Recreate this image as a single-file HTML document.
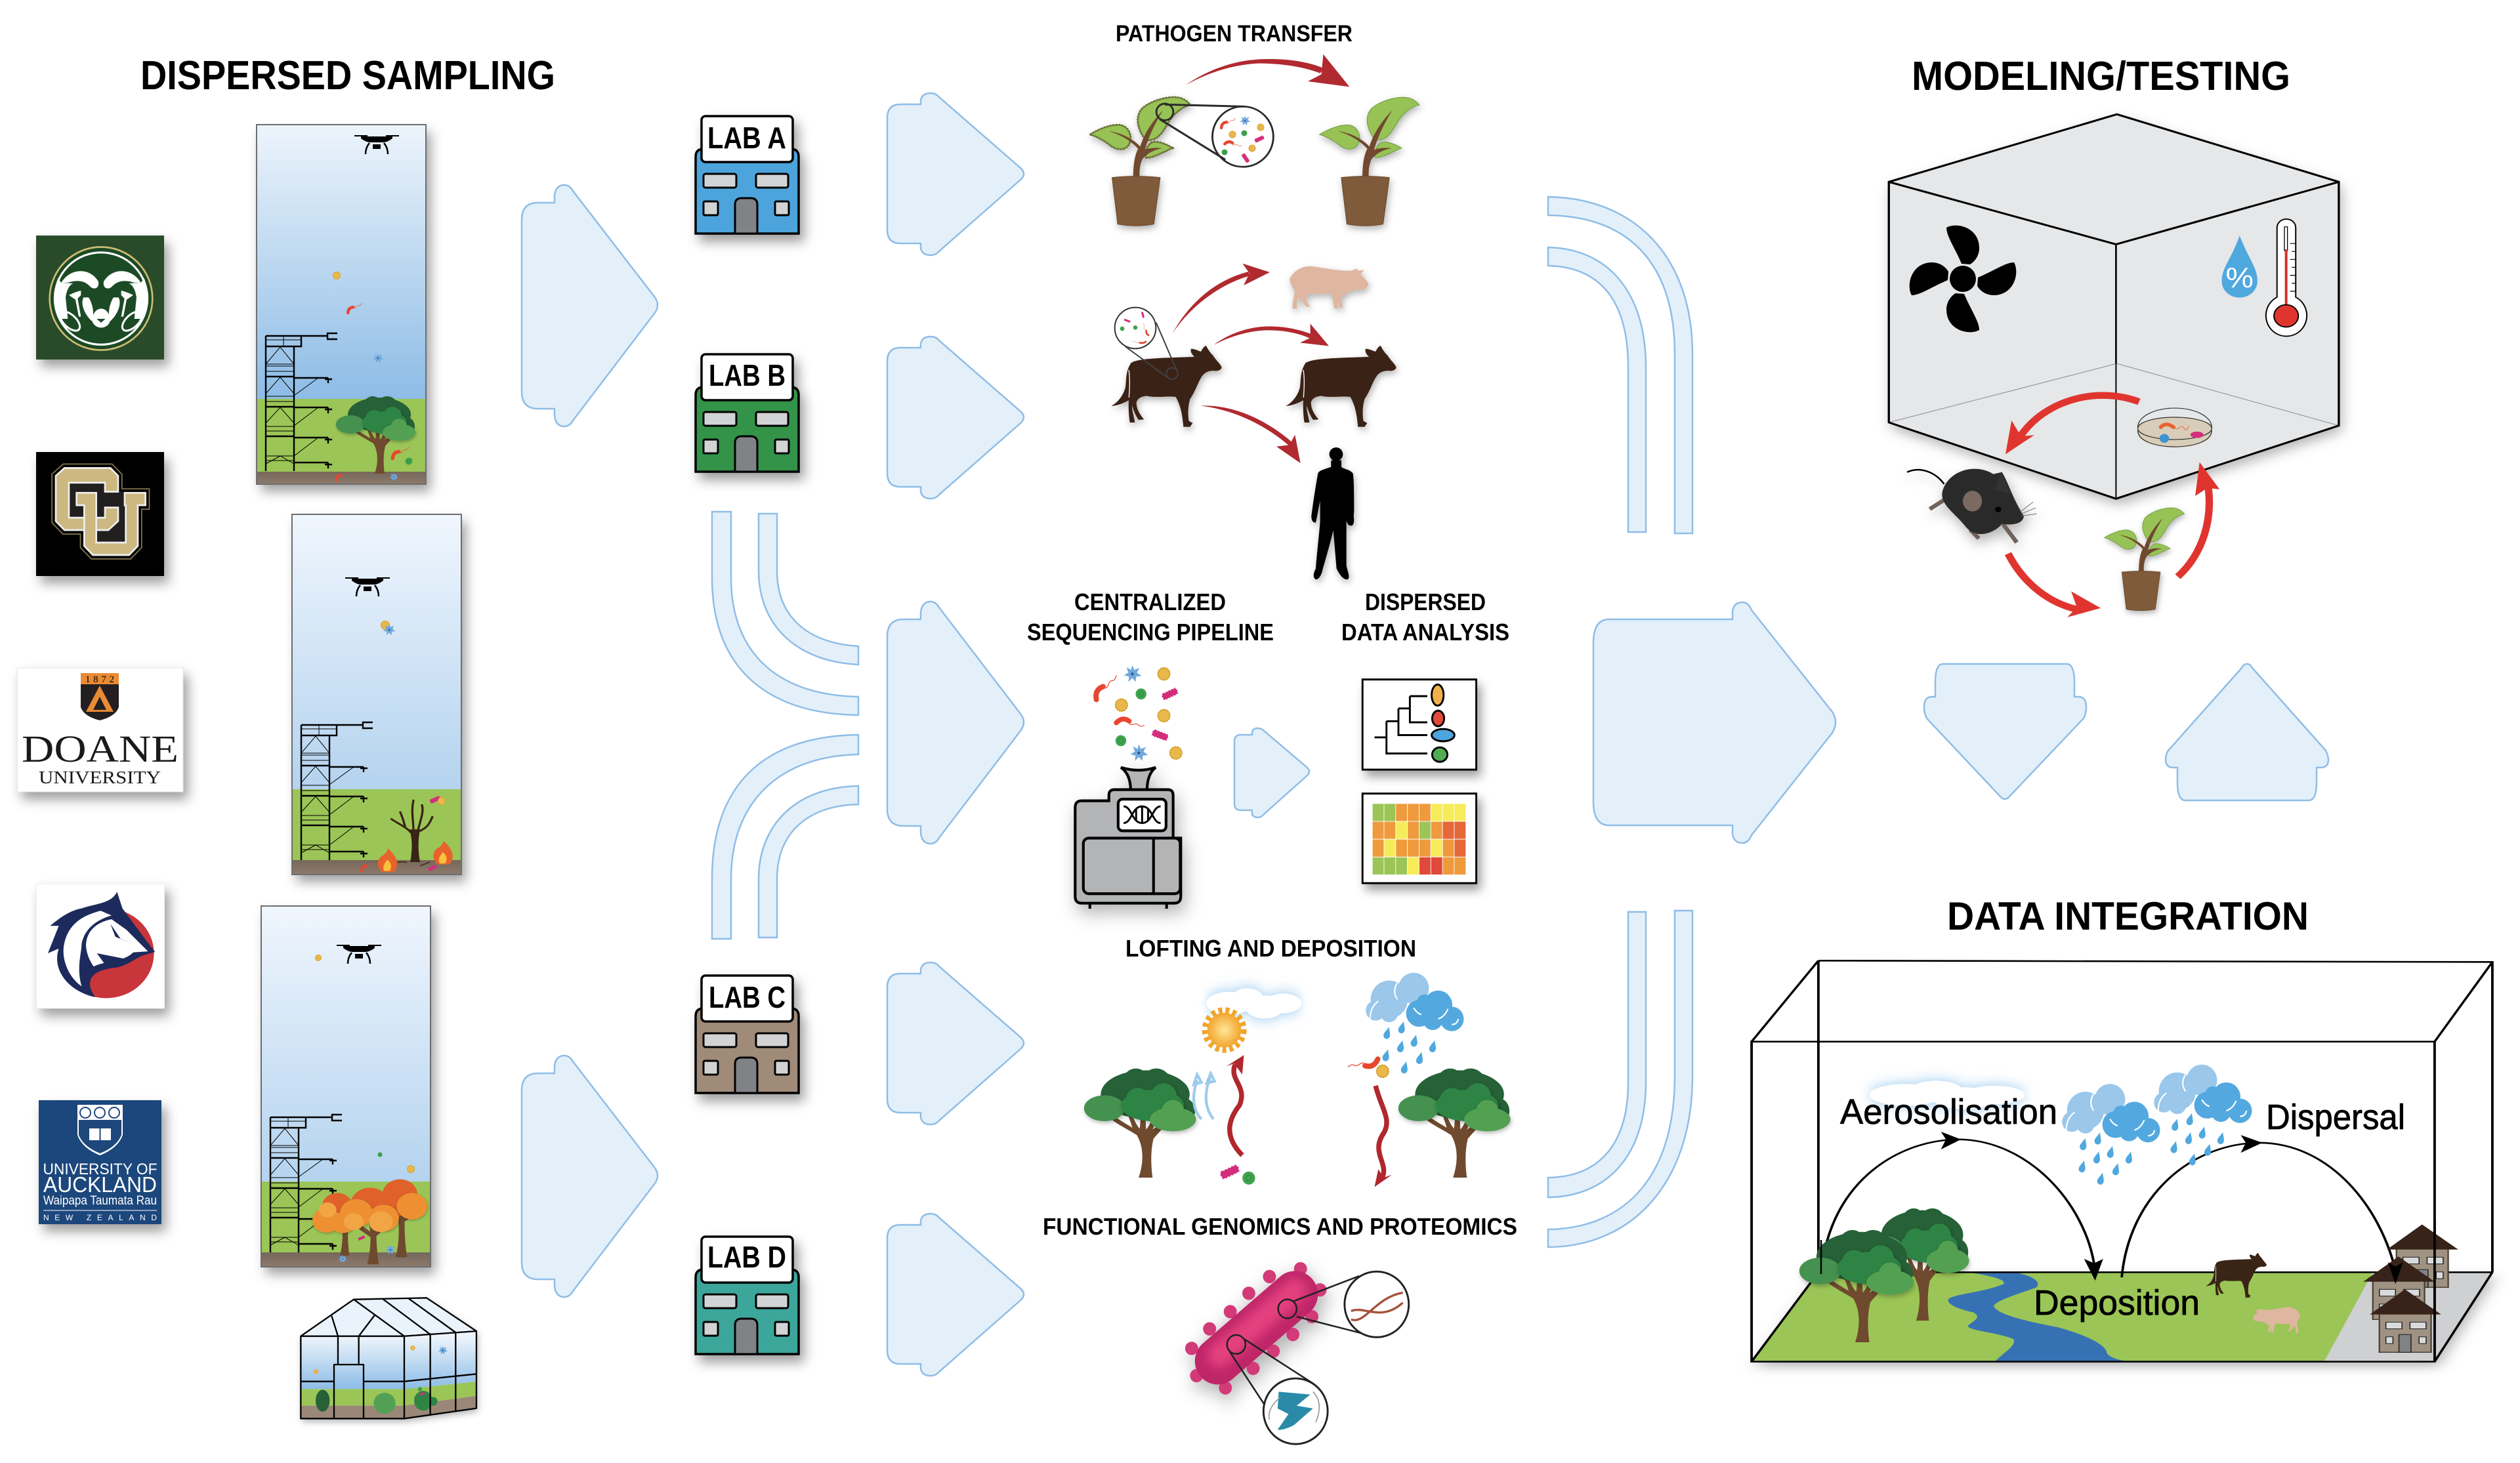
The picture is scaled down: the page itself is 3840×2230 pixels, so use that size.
<!DOCTYPE html>
<html><head><meta charset="utf-8"><title>Diagram</title>
<style>html,body{margin:0;padding:0;background:#fff}svg{display:block}
text{font-family:"Liberation Sans",sans-serif;font-weight:700;fill:#000}</style></head>
<body>
<svg xmlns="http://www.w3.org/2000/svg" width="3840" height="2230" viewBox="0 0 3840 2230">
<defs>
<filter id="ds" x="-30%" y="-30%" width="170%" height="170%"><feDropShadow dx="7" dy="11" stdDeviation="9" flood-color="#000" flood-opacity=".38"/></filter>
<filter id="dsl" x="-30%" y="-30%" width="170%" height="170%"><feDropShadow dx="6" dy="14" stdDeviation="16" flood-color="#000" flood-opacity=".3"/></filter>
<filter id="ts" x="-20%" y="-20%" width="140%" height="140%"><feDropShadow dx="1" dy="2" stdDeviation="2.500" flood-color="#000" flood-opacity=".28"/></filter>
<filter id="glow" x="-30%" y="-60%" width="160%" height="220%"><feDropShadow dx="0" dy="0" stdDeviation="8" flood-color="#8cc4ee" flood-opacity=".9"/></filter>
<filter id="bl8" x="-30%" y="-30%" width="160%" height="160%"><feGaussianBlur stdDeviation="9"/></filter>
<linearGradient id="s1" x1="0" y1="0" x2="0" y2="1"><stop offset="0" stop-color="#edf4fb"/><stop offset="1" stop-color="#8dbce6"/></linearGradient>
<linearGradient id="s2" x1="0" y1="0" x2="0" y2="1"><stop offset="0" stop-color="#f0f6fd"/><stop offset="1" stop-color="#b4d3ef"/></linearGradient>
<linearGradient id="soil" x1="0" y1="0" x2="0" y2="1"><stop offset="0" stop-color="#75675b"/><stop offset="1" stop-color="#8d7a6c"/></linearGradient>
<linearGradient id="gh" gradientUnits="userSpaceOnUse" x1="0" y1="230" x2="0" y2="472"><stop offset="0" stop-color="#eef5fc"/><stop offset="1" stop-color="#8dbce6"/></linearGradient>
<radialGradient id="sun"><stop offset="0" stop-color="#fde79a"/><stop offset="1" stop-color="#f4a52c"/></radialGradient>

<g id="tower" fill="none" stroke="#000">
<path stroke-width="2.4" d="M405 512V718M448 528V718M405 512H459V528H405M459 512H499M514 508H499V517H514M405 574H448M405 620H448M405 665H448M448 576H500M448 621H500M448 667H500M448 705H500"/>
<path stroke-width="1" d="M405 518H459M432 512V528M405 555H448M405 558H448M405 566H448M405 604H448M405 612H448M405 650H448M405 657H448M405 695H448M405 702H448M405 555L427 529L448 555M405 600L427 575L448 600M405 645L427 621L448 645M405 707L427 695L448 707M448 603L485 576M448 649L485 621M448 695L485 667"/>
<path stroke-width="2.4" d="M495 578H506M500 576V584M495 624H506M500 621V630M495 670H506M500 667V676M495 708H506M500 705V714"/>
</g>
<g id="drone"><path d="M-34 -10H-14M14 -10H34" stroke="#000" stroke-width="2" fill="none"/><path d="M-24 -9h48v3q-8 6-14 6h-20q-6 0-14-6z"/><rect x="-6" y="3" width="12" height="7"/><path d="M-11 1Q-17 8-17 18M11 1Q17 8 17 18" stroke="#000" stroke-width="2.5" fill="none"/></g>

<g id="tree">
<path fill="#6f4a2e" d="M-7 0C-1-18-2-34-9-46C-18-52-30-57-40-66L-37-69C-28-62-20-58-14-54C-15-60-18-64-19-72L-15-72C-13-64-10-58-6-53C-5-58-5-65-5-72L0-72L1-52C5-57 8-62 9-72L13-72C12-62 11-58 8-52C14-56 18-60 23-64L26-62C20-54 14-48 9-42C6-30 6-14 8 0Z"/>
<g fill="#266137"><ellipse cx="0" cy="-90" rx="48" ry="26"/><circle cx="-28" cy="-92" r="14"/><circle cx="-10" cy="-104" r="14"/><circle cx="12" cy="-102" r="16"/><circle cx="32" cy="-90" r="16"/><ellipse cx="-32" cy="-80" rx="14" ry="12"/><ellipse cx="42" cy="-72" rx="12" ry="14"/></g>
<g fill="#45914f" filter="url(#ts)"><ellipse cx="-44" cy="-75" rx="22" ry="14"/><circle cx="-56" cy="-75" r="10"/></g>
<g fill="#2f8444" filter="url(#ts)"><ellipse cx="8" cy="-78" rx="34" ry="17"/><circle cx="20" cy="-88" r="14"/><circle cx="-8" cy="-84" r="13"/></g>
<g fill="#52a053" filter="url(#ts)"><ellipse cx="30" cy="-63" rx="25" ry="13"/><circle cx="30" cy="-72" r="12"/></g>
</g>

<g id="sp"><circle r="10" fill="#e9b84a"/><circle r="9" fill="none" stroke="#c9952c" stroke-dasharray="2 2" stroke-width="2"/></g>
<g id="gr"><circle r="9" fill="#3fa34d"/><circle r="4" fill="none" stroke="#2a8a3c"/></g>
<g id="rb"><path d="M-18 9Q-17-6-3-7" stroke="#e8452f" stroke-width="8" fill="none" stroke-linecap="round"/><path d="M-3-7q4 6 8 0t8-5t8-6" stroke="#e8553f" stroke-width="1.3" fill="none"/></g>
<g id="pk"><rect x="-13" y="-5" width="26" height="10" rx="3" fill="#d22e7c" transform="rotate(-25)" stroke="#d22e7c" stroke-width="2" stroke-dasharray="2 3"/></g>
<g id="bl"><path fill="#6fa9dd" d="M0-13L3-6L11-9L7-2L14 3L6 4L5 12L0 6L-6 12L-5 4L-13 2L-6-2L-9-10L-2-6Z"/><circle r="2" fill="#27538f"/></g>

<g id="lab">
<path stroke="#000" stroke-width="3.5" d="M0 179V62Q0 50 12 50H145Q157 50 157 62V179Z"/>
<g fill="#d1d3d4" stroke="#000" stroke-width="3"><rect x="12" y="88" width="50" height="21" rx="3"/><rect x="92" y="88" width="49" height="21" rx="3"/><rect x="12" y="130" width="22" height="21" rx="2"/><rect x="121" y="130" width="21" height="21" rx="2"/></g>
<path fill="#808285" stroke="#000" stroke-width="3" d="M60 179V135Q60 125 70 125H84Q94 125 94 135V179Z"/>
<rect x="9" y="0" width="139" height="70" rx="6" fill="#fff" stroke="#000" stroke-width="3.5"/>
</g>

<path id="bigA" fill="#e3f0fa" stroke="#8fbde6" stroke-width="2.5" d="M795 335Q795 309 820 309L845 309L845 298Q847 282 860 282Q868 282 873 291L997 452Q1007 465 997 478L873 641Q868 650 860 650Q847 650 845 634L845 623L820 623Q795 623 795 597Z"/>
<path id="midA" fill="#e3f0fa" stroke="#8fbde6" stroke-width="2.5" d="M1352 180Q1352 159 1372 159L1403 159L1403 153Q1405 142 1418 142Q1426 142 1431 148L1555 256Q1565 265 1555 274L1431 383Q1426 389 1418 389Q1405 389 1403 378L1403 371L1372 371Q1352 371 1352 350Z"/>

<g id="leaves">
<path d="M1215 395C1180 340 1175 290 1205 255C1250 215 1330 195 1370 210C1390 218 1400 230 1408 240C1380 245 1345 270 1320 310C1295 355 1275 400 1230 400Z"/>
<path d="M982 375C1020 350 1070 328 1110 332C1145 340 1160 380 1150 410C1140 445 1105 450 1075 430C1045 405 1015 385 982 375Z"/>
<path d="M1332 437C1300 415 1265 405 1245 412C1225 425 1215 450 1220 480C1245 485 1290 455 1332 437Z"/>
</g>
<g id="stem">
<path fill="#6f4a2e" d="M1165 578C1165 510 1172 470 1186 440C1150 400 1110 375 1060 360C1110 365 1165 395 1195 430C1212 370 1250 310 1292 265C1258 325 1230 385 1215 445C1240 435 1265 435 1290 438C1250 445 1220 465 1203 490C1190 525 1192 550 1192 578Z"/>
</g>
<g id="pot"><path fill="#7f5a3a" stroke="#6a4a2c" stroke-width="3" d="M1075 572Q1178 560 1280 572L1253 785Q1178 800 1099 785Z"/></g>

<g id="cow"><path fill="#3a2416" d="M130 460C160 440 250 437 420 432C410 420 400 410 405 395C420 395 440 405 450 408C458 395 465 380 475 382C480 395 490 410 505 425C520 450 545 470 545 482C540 495 520 498 510 495C490 495 470 500 455 520C435 550 425 590 400 625C390 660 390 700 395 725L412 735L400 752L370 752C365 700 360 660 335 615C300 610 240 620 200 610C170 615 160 625 155 640C155 670 170 695 190 718L165 720C150 700 140 670 135 655C135 680 145 710 148 732L125 732C120 700 118 660 120 630C105 640 70 655 40 657C70 640 95 610 105 570C110 530 105 500 130 460Z"/><path d="M120 492C127 530 124 580 121 618" stroke="#fff" stroke-width="4" fill="none"/></g>
<path id="pig" fill="#dfb6a0" d="M855 75C880 30 920 15 960 18C1010 25 1080 40 1140 38L1160 28L1170 38L1195 35L1180 55C1195 75 1215 85 1215 100C1210 120 1190 128 1160 125C1130 130 1100 150 1090 160L1100 205L1085 208L1075 180L1075 210L1060 210C1055 180 1050 150 1040 140C1000 145 960 145 940 145C930 160 925 170 950 202L930 202L905 165C895 160 885 170 890 212L870 212C865 190 875 160 880 130C865 110 860 95 855 75Z"/>
<g id="drop"><path d="M0-14C3-6 6-3 6 2A6 6 0 0 1-6 2C-6-3-3-6 0-14Z" fill="#4fa8de"/></g>
<g id="rain">
<g fill="#9ac7ea"><circle cx="985" cy="735" r="34"/><circle cx="1030" cy="715" r="28"/><circle cx="960" cy="755" r="18"/><circle cx="985" cy="760" r="16"/><circle cx="1045" cy="745" r="20"/></g>
<g fill="#53a9df"><circle cx="1040" cy="760" r="24"/><circle cx="1075" cy="745" r="26"/><circle cx="1100" cy="770" r="22"/><circle cx="1065" cy="772" r="18"/><circle cx="1050" cy="740" r="14"/></g>
<path d="M950 775Q948 750 965 738M1000 705Q990 720 1000 735M1075 770q12-4 18-18M1100 780q10 0 12-10M1030 750q6 10 14 12" stroke="#fff" stroke-width="2.5" fill="none"/>
<use href="#drop" transform="translate(981,798) rotate(15)"/><use href="#drop" transform="translate(1008,788) rotate(15)"/><use href="#drop" transform="translate(1031,812) rotate(15)"/><use href="#drop" transform="translate(1065,822) rotate(15)"/><use href="#drop" transform="translate(1006,822) rotate(15)"/><use href="#drop" transform="translate(979,838) rotate(15)"/><use href="#drop" transform="translate(1041,843) rotate(15)"/><use href="#drop" transform="translate(1013,860) rotate(15)"/>
</g>
<g id="cloud"><ellipse cx="0" cy="0" rx="48" ry="13"/><ellipse cx="40" cy="-4" rx="36" ry="13"/><ellipse cx="78" cy="4" rx="42" ry="13"/><ellipse cx="118" cy="0" rx="40" ry="11"/></g>
<g id="house"><rect x="-51" y="0" width="103" height="118" stroke="#4a4038" stroke-width="3"/><g fill="#d9dadb" stroke="#222" stroke-width="2"><rect x="-38" y="28" width="32" height="20"/><rect x="10" y="28" width="32" height="20"/><rect x="-38" y="72" width="14" height="20"/><rect x="28" y="72" width="14" height="20"/></g><rect x="-12" y="65" width="24" height="53" fill="#808285" stroke="#222" stroke-width="2"/><path fill="#38231a" d="M-70 5L0-70L72 5Z"/></g>
<path id="blade" d="M-2 -23C-12 -47 -25 -65 -25 -78C-9 -87 25 -78 25 -47C25 -35 18 -26 11 -22Z"/>
</defs>

<rect width="3840" height="2230" fill="#fff"/>

<!-- Headings -->
<text x="214" y="136" font-size="62" textLength="632" lengthAdjust="spacingAndGlyphs">DISPERSED SAMPLING</text>
<text x="2913" y="137" font-size="62" textLength="577" lengthAdjust="spacingAndGlyphs">MODELING/TESTING</text>
<text x="2967" y="1417" font-size="60" textLength="551" lengthAdjust="spacingAndGlyphs">DATA INTEGRATION</text>
<text x="1700" y="63" font-size="35" textLength="361" lengthAdjust="spacingAndGlyphs">PATHOGEN TRANSFER</text>
<text x="1637" y="930" font-size="36" textLength="231" lengthAdjust="spacingAndGlyphs">CENTRALIZED</text>
<text x="1565" y="976" font-size="36" textLength="376" lengthAdjust="spacingAndGlyphs">SEQUENCING PIPELINE</text>
<text x="2080" y="930" font-size="36" textLength="184" lengthAdjust="spacingAndGlyphs">DISPERSED</text>
<text x="2044" y="976" font-size="36" textLength="256" lengthAdjust="spacingAndGlyphs">DATA ANALYSIS</text>
<text x="1715" y="1458" font-size="36" textLength="443" lengthAdjust="spacingAndGlyphs">LOFTING AND DEPOSITION</text>
<text x="1589" y="1882" font-size="36" textLength="723" lengthAdjust="spacingAndGlyphs">FUNCTIONAL GENOMICS AND PROTEOMICS</text>

<!-- Logos -->
<g filter="url(#ds)"><rect x="55" y="359" width="195" height="189" fill="#2c4c2c"/></g>
<g transform="translate(40,350) scale(.3333,.3444)">
<ellipse cx="342" cy="305" rx="235" ry="228" fill="#1c4a25" stroke="#cdbb72" stroke-width="8"/>
<ellipse cx="342" cy="305" rx="212" ry="204" fill="none" stroke="#fff" stroke-width="9"/>
<g id="ramhalf" fill="#fff">
<path d="M160 235C200 170 290 165 330 230C335 260 310 270 290 250C260 220 220 225 190 235Z"/>
<path d="M145 215C120 280 125 350 160 395L190 395L180 300C185 270 195 245 215 238L160 235Z"/>
<path d="M262 300C245 330 270 380 300 405C315 370 300 320 285 300Z"/>
<ellipse cx="200" cy="405" rx="55" ry="28" fill="none" stroke="#fff" stroke-width="9" transform="rotate(42 200 405)"/>
<path d="M195 290Q225 275 250 270L250 290L235 305L250 385L240 385L225 310Z"/>
</g>
<use href="#ramhalf" transform="translate(684,0) scale(-1,1)"/>
<path fill="#fff" d="M342 350C320 350 305 370 300 400C310 445 375 445 385 400C380 370 365 350 342 350Z"/>
<path fill="#1c4a25" d="M322 395H362L342 412Z"/>
</g>

<g filter="url(#ds)"><rect x="55" y="689" width="195" height="189" fill="#030303"/></g>
<g transform="translate(40,350) scale(.3333,.3444)">
<path d="M135 1090L175 1055H385L420 1090V1160H360V1120H195V1275H360V1230H420V1290L375 1330H175L135 1290Z" fill="none" stroke="#8a7a52" stroke-width="40" stroke-linejoin="miter"/>
<path d="M230 1165H320V1385H455V1220H450V1165H545V1220H510V1400L470 1440H305L265 1400V1220H230Z" fill="none" stroke="#8a7a52" stroke-width="40"/>
<path d="M135 1090L175 1055H385L420 1090V1160H360V1120H195V1275H360V1230H420V1290L375 1330H175L135 1290Z M230 1165H320V1385H455V1220H450V1165H545V1220H510V1400L470 1440H305L265 1400V1220H230Z" fill="none" stroke="#000" stroke-width="30"/>
<rect x="195" y="1120" width="165" height="155" fill="#221f1f"/><rect x="320" y="1160" width="135" height="225" fill="#221f1f"/>
<g fill="#ccb880" stroke="#eee" stroke-width="8"><path d="M135 1090L175 1055H385L420 1090V1160H360V1120H195V1275H360V1230H420V1290L375 1330H175L135 1290Z"/><path d="M230 1165H320V1385H455V1220H450V1165H545V1220H510V1400L470 1440H305L265 1400V1220H230Z"/></g>
</g>

<g filter="url(#ds)"><rect x="26.5" y="1018" width="252.5" height="189" fill="#fff" stroke="#e6e6e6"/></g>
<path d="M123 1042H181V1078Q176 1092 152 1098Q128 1092 123 1078Z" fill="#231f20"/>
<rect x="123" y="1026" width="58" height="17" fill="#e98a34"/>
<path d="M152 1045L173 1085H131Z" fill="#e98a34"/><path d="M152 1062L162 1082H142Z" fill="#231f20"/>
<text x="130" y="1040" font-size="15" textLength="44" style="font-family:'Liberation Serif',serif;font-weight:400">1872</text>
<text x="33" y="1161" font-size="58" textLength="239" lengthAdjust="spacingAndGlyphs" style="font-family:'Liberation Serif',serif;font-weight:400;fill:#1a1a1a">DOANE</text>
<text x="59" y="1194" font-size="27" textLength="186" lengthAdjust="spacingAndGlyphs" style="font-family:'Liberation Serif',serif;font-weight:400;fill:#1a1a1a">UNIVERSITY</text>

<g filter="url(#ds)"><rect x="55.5" y="1347" width="195" height="190" fill="#fff" stroke="#eee"/></g>
<g transform="translate(0,1100) scale(.8292,.7205)">
<ellipse cx="195" cy="490" rx="88" ry="95" fill="#c8353a"/>
<path fill="#1d2a5c" d="M215 360C205 385 175 385 150 395C125 400 105 420 92 432L108 432L88 490L108 480C95 525 125 570 175 583C155 550 165 525 215 520C235 515 250 500 262 495L285 487L270 465L225 395Z"/>
<path fill="#fff" d="M185 400C150 410 125 430 118 470C112 500 125 540 150 560C140 520 150 490 150 470C155 440 175 420 205 410Z"/>
<path fill="#fff" d="M205 418C175 425 158 445 158 475C160 495 165 505 172 518C195 505 225 510 245 488L272 486L232 440Z"/>
<path fill="#1d2a5c" d="M203 428L222 460L245 470L212 455ZM178 490L235 503L192 512Z"/>
</g>

<g filter="url(#ds)"><rect x="59" y="1677" width="187" height="189" fill="#1e477c"/></g>
<path d="M118 1684H187V1730Q180 1750 152.500 1761Q125 1750 118 1730Z" fill="#fff"/>
<path d="M120 1707H185V1730Q178 1748 152.500 1758Q127 1748 120 1730Z" fill="#1e477c"/>
<rect x="136" y="1720" width="33" height="18" fill="#fff"/><path d="M152.500 1720V1738" stroke="#1e477c" stroke-width="2"/>
<circle cx="130" cy="1696" r="8" fill="none" stroke="#1e477c" stroke-width="2"/><circle cx="152" cy="1696" r="8" fill="none" stroke="#1e477c" stroke-width="2"/><circle cx="174" cy="1696" r="8" fill="none" stroke="#1e477c" stroke-width="2"/>
<text x="65.500" y="1790" font-size="24" textLength="174" lengthAdjust="spacingAndGlyphs" style="fill:#fff;font-weight:400">UNIVERSITY OF</text>
<text x="66" y="1817" font-size="33" textLength="173" lengthAdjust="spacingAndGlyphs" style="fill:#fff;font-weight:400">AUCKLAND</text>
<text x="66" y="1836" font-size="19" textLength="173" lengthAdjust="spacingAndGlyphs" style="fill:#fff;font-weight:400">Waipapa Taumata Rau</text>
<path d="M66 1845H239" stroke="#fff"/>
<text x="66" y="1860" font-size="12" textLength="173" style="fill:#fff;font-weight:400">NEW ZEALAND</text>

<!-- Panel 1 -->
<g filter="url(#ds)"><rect x="391" y="190" width="258" height="548" fill="#fff"/></g>
<rect x="391" y="190" width="258" height="418" fill="url(#s1)"/>
<rect x="391" y="608" width="258" height="111" fill="#9bc556"/>
<rect x="391" y="719" width="258" height="19" fill="url(#soil)"/>
<rect x="391" y="190" width="258" height="548" fill="none" stroke="#6d6e71" stroke-width="2"/>
<use href="#drone" x="574" y="217"/>
<use href="#tree" transform="translate(578,722)"/>
<use href="#tower"/>
<use href="#sp" transform="translate(513,420) scale(.6)"/><use href="#rb" transform="translate(540,472) scale(.55)"/><use href="#bl" transform="translate(576,546) scale(.6)"/>
<use href="#rb" transform="translate(610,693) scale(.65)"/><use href="#gr" transform="translate(623,703) scale(.6)"/>
<use href="#rb" transform="translate(521,728) scale(.5)"/><use href="#bl" transform="translate(600,727) scale(.5)"/>

<!-- Panel 2 -->
<g filter="url(#ds)"><rect x="445" y="784" width="258" height="549" fill="#fff"/></g>
<rect x="445" y="784" width="258" height="419" fill="url(#s2)"/>
<rect x="445" y="1203" width="258" height="108" fill="#9bc556"/>
<rect x="445" y="1311" width="258" height="22" fill="url(#soil)"/>
<rect x="445" y="784" width="258" height="549" fill="none" stroke="#6d6e71" stroke-width="2"/>
<use href="#drone" x="560" y="891"/>
<use href="#tower" transform="translate(54,593)"/>
<use href="#sp" transform="translate(587,953) scale(.7)"/><use href="#bl" transform="translate(593,960) scale(.7)"/>
<g transform="translate(0,1100) scale(.8292,.7205)">
<path fill="#3a2416" d="M754 297C758 270 758 245 752 228L772 228C768 250 768 275 772 297Z"/>
<path fill="none" stroke="#3a2416" stroke-width="4" d="M755 235C750 225 730 215 718 205M760 235C760 210 755 190 760 165M767 235C772 210 780 190 775 175M770 232C785 225 790 215 795 200M745 225C742 210 738 198 735 190"/>
<g id="flame"><path fill="#e8622c" d="M713 268C732 288 734 305 724 318L702 318C690 305 693 288 705 282C708 278 712 276 713 268Z"/><path fill="#f8c13a" d="M712 292C720 300 720 308 716 316L706 316C702 308 706 300 712 292Z"/></g>
<use href="#flame" transform="translate(102,-16)"/>
<path d="M730 298Q740 295 748 298M772 305L790 297" stroke="#3a2416" stroke-width="2" fill="none"/>
</g>
<use href="#pk" transform="translate(663,1219) scale(.6)"/><use href="#sp" transform="translate(673,1221) scale(.6)"/>
<use href="#rb" transform="translate(560,1323) scale(.5)"/><use href="#pk" transform="translate(659,1323) scale(.5)"/>

<!-- Panel 3 -->
<g filter="url(#ds)"><rect x="398" y="1381" width="258" height="550" fill="#fff"/></g>
<rect x="398" y="1381" width="258" height="420" fill="url(#s2)"/>
<rect x="398" y="1801" width="258" height="108" fill="#9bc556"/>
<rect x="398" y="1909" width="258" height="22" fill="url(#soil)"/>
<rect x="398" y="1381" width="258" height="550" fill="none" stroke="#6d6e71" stroke-width="2"/>
<use href="#drone" x="547" y="1451"/>
<use href="#tower" transform="translate(7,1191)"/>
<g transform="translate(0,1100) scale(.8292,.7205)">
<g fill="#6f4a2e"><path d="M625 1130Q632 1090 628 1060H640Q638 1095 642 1130Z"/><path d="M675 1148Q685 1100 678 1060H692Q690 1100 696 1148Z"/><path d="M727 1133Q737 1090 730 1030H744Q742 1090 748 1133Z"/><path d="M655 1070L680 1090L684 1082L660 1062ZM690 1090L725 1055L720 1050L688 1080ZM740 1060L770 1040L765 1034L738 1050Z"/></g>
<g fill="#e0622a"><circle cx="620" cy="1025" r="28"/><circle cx="680" cy="1022" r="36"/><circle cx="735" cy="1000" r="32"/><circle cx="720" cy="1030" r="22"/></g>
<g fill="#ee9030" filter="url(#ts)"><circle cx="600" cy="1055" r="26"/><circle cx="655" cy="1040" r="30"/><circle cx="705" cy="1050" r="28"/><circle cx="757" cy="1025" r="28"/><circle cx="630" cy="1060" r="22"/></g>
<g fill="#f2a545"><circle cx="650" cy="1058" r="18"/><circle cx="700" cy="1058" r="22"/><circle cx="602" cy="1033" r="16"/></g>
</g>
<use href="#sp" transform="translate(485,1460) scale(.5)"/><use href="#gr" transform="translate(579,1760) scale(.4)"/><use href="#sp" transform="translate(626,1782) scale(.6)"/>
<use href="#pk" transform="translate(551,1887) scale(.4)"/><use href="#bl" transform="translate(595,1905) scale(.6)"/><use href="#bl" transform="translate(522,1919) scale(.5)"/>

<!-- Greenhouse -->
<g transform="translate(450,1960) scale(.3333)">
<g filter="url(#dsl)"><path d="M25 230L267 62L600 55L828 207V560L498 607H25Z" fill="#eaf3fb"/></g>
<rect x="25" y="230" width="473" height="242" fill="url(#gh)"/>
<rect x="25" y="472" width="473" height="76" fill="#9bc556"/><rect x="25" y="548" width="473" height="59" fill="#9a8778"/>
<path d="M498 230L828 207V438L498 472Z" fill="url(#gh)"/>
<path d="M498 472L828 438V503L498 548Z" fill="#9bc556"/><path d="M498 548L828 503V560L498 607Z" fill="#9a8778"/>
<ellipse cx="125" cy="525" rx="32" ry="50" fill="#266137"/><g fill="#52a053"><ellipse cx="408" cy="537" rx="50" ry="48"/></g><g fill="#2f8444"><ellipse cx="585" cy="525" rx="42" ry="45"/><circle cx="630" cy="528" r="20"/></g>
<use href="#sp" transform="translate(95,392) scale(1.1)"/><use href="#sp" transform="translate(537,284) scale(1.1)"/><use href="#bl" transform="translate(674,295) scale(1.6)"/><use href="#gr" transform="translate(570,472) scale(1.1)"/><use href="#pk" transform="translate(580,494) scale(.9)"/>
<path fill="none" stroke="#000" stroke-width="7" stroke-linejoin="round" d="M25 607V230L267 62L600 55L828 207V560L498 607H25ZM25 230H498V607M498 230L828 207M267 62L498 230M400 60L617 222M518 58L733 213M617 222V587M733 213V570M498 437L828 403M166 137L195 230V360M362 135L290 230V360M177 607V360H312V607M25 437H177M312 437H498"/>
</g>

<!-- Big arrows -->
<use href="#bigA"/><use href="#bigA" y="1327"/>
<use href="#midA"/><use href="#midA" y="371"/>
<path fill="#e3f0fa" stroke="#8fbde6" stroke-width="2.5" d="M1352 970Q1352 944 1377 944L1403 944L1403 933Q1405 917 1418 917Q1426 917 1431 926L1555 1088Q1565 1101 1555 1114L1431 1277Q1426 1286 1418 1286Q1405 1286 1403 1270L1403 1259L1377 1259Q1352 1259 1352 1233Z"/>
<use href="#midA" y="1325"/><use href="#midA" y="1708"/>
<path fill="#e3f0fa" stroke="#8fbde6" stroke-width="2.5" d="M1881 1130Q1881 1120 1891 1120L1908 1120L1908 1116Q1909 1110 1917 1110Q1922 1110 1926 1114L1992 1170Q1998 1176 1992 1182L1926 1241Q1922 1246 1917 1246Q1909 1246 1908 1240L1908 1235L1891 1235Q1881 1235 1881 1225Z"/>
<path fill="#e3f0fa" stroke="#8fbde6" stroke-width="2.5" d="M2428 980Q2428 944 2452 944L2640 944L2640 932Q2642 918 2655 918Q2664 918 2669 930L2792 1085Q2802 1101 2792 1117L2669 1273Q2664 1285 2655 1285Q2642 1285 2640 1271L2640 1258L2452 1258Q2428 1258 2428 1222Z"/>
<path fill="#e3f0fa" stroke="#8fbde6" stroke-width="2.5" d="M2949 1040Q2949 1012 2961 1012L3149 1012Q3161 1012 3161 1040L3161 1062L3167 1062Q3179 1062 3179 1078Q3179 1087 3175 1095L3062 1214Q3055 1222 3048 1214L2936 1095Q2932 1087 2932 1078Q2932 1062 2944 1062L2949 1062Z"/>
<path fill="#e3f0fa" stroke="#8fbde6" stroke-width="2.5" d="M3424 1012Q3429 1012 3432 1018L3544 1144Q3548 1152 3548 1158Q3548 1170 3536 1170L3530 1170L3530 1192Q3530 1220 3518 1220L3330 1220Q3318 1220 3318 1192L3318 1170L3312 1170Q3300 1170 3300 1158Q3300 1150 3304 1144L3416 1018Q3419 1012 3424 1012Z"/>

<!-- Tubes -->
<g fill="#e3f0fa" stroke="#8fbde6" stroke-width="2.5">
<path d="M1085 780L1114 780L1114 880C1114 1000 1190 1060 1308 1062L1308 1090C1170 1088 1085 1020 1085 880Z"/>
<path d="M1156 783L1184 783L1184 870C1184 940 1230 980 1308 985L1308 1013C1210 1008 1156 950 1156 870Z"/>
<path d="M1085 1431L1114 1431L1114 1340C1114 1220 1190 1152 1308 1150L1308 1120C1170 1122 1085 1190 1085 1340Z"/>
<path d="M1156 1429L1184 1429L1184 1340C1184 1270 1230 1228 1308 1226L1308 1198C1210 1200 1156 1260 1156 1340Z"/>
<path d="M2359 300L2359 328C2490 330 2552 410 2552 540L2552 813L2579 813L2579 540C2579 390 2490 302 2359 300Z"/>
<path d="M2359 377L2359 405C2440 407 2481 460 2481 560L2481 811L2508 811L2508 560C2508 445 2450 379 2359 377Z"/>
<path d="M2552 1388L2579 1388L2579 1640C2579 1800 2490 1900 2359 1901L2359 1874C2480 1872 2552 1790 2552 1640Z"/>
<path d="M2481 1390L2508 1390L2508 1650C2508 1760 2450 1824 2359 1825L2359 1795C2440 1794 2481 1740 2481 1650Z"/>
</g>

<!-- Labs -->
<use href="#lab" x="1060" y="177" fill="#4ea4dc" filter="url(#ds)"/>
<use href="#lab" x="1060" y="540" fill="#33934a" filter="url(#ds)"/>
<use href="#lab" x="1060" y="1487" fill="#a08a78" filter="url(#ds)"/>
<use href="#lab" x="1060" y="1885" fill="#3ea69b" filter="url(#ds)"/>
<text x="1078" y="226" font-size="46" textLength="120" lengthAdjust="spacingAndGlyphs">LAB A</text>
<text x="1080" y="588" font-size="46" textLength="117" lengthAdjust="spacingAndGlyphs">LAB B</text>
<text x="1080" y="1536" font-size="46" textLength="117" lengthAdjust="spacingAndGlyphs">LAB C</text>
<text x="1078" y="1932" font-size="46" textLength="120" lengthAdjust="spacingAndGlyphs">LAB D</text>

<!-- Plants -->
<g transform="translate(1660,80) scale(.3571,.3333)" filter="url(#dsl)">
<g transform="translate(-978,0)"><use href="#leaves" fill="#5c4a1e" stroke="#5c4a1e" stroke-width="10" stroke-dasharray="7 6"/><use href="#leaves" fill="#97c257" stroke="#6e7a34" stroke-width="6"/><use href="#stem"/><use href="#pot"/></g>
</g>
<g transform="translate(1660,80) scale(.3571,.3333)" filter="url(#dsl)">
<use href="#leaves" fill="#97c257" stroke="#6b9c3a" stroke-width="3"/><use href="#stem"/><use href="#pot"/>
</g>
<g transform="translate(1660,80) scale(.3571,.3333)">
<path fill="#b02a30" d="M410 150C530 60 660 28 770 30C860 30 940 45 1000 72L985 95C900 60 800 50 720 50C610 55 500 95 410 150Z"/>
<path fill="#b02a30" d="M998 8L1110 157L932 132L990 100Z"/>
<ellipse cx="322" cy="272" rx="36" ry="38" fill="none" stroke="#2b2b2b" stroke-width="8"/>
<ellipse cx="655" cy="385" rx="130" ry="138" fill="#fff" stroke="#2b2b2b" stroke-width="8"/>
<path d="M322 238L660 247M300 305L580 490" stroke="#2b2b2b" stroke-width="9"/>
</g>
<use href="#rb" transform="translate(1871,190) scale(.55)"/><use href="#bl" transform="translate(1897,184) scale(.6)"/><use href="#sp" transform="translate(1921,194) scale(.55)"/><use href="#sp" transform="translate(1878,205) scale(.55)"/><use href="#gr" transform="translate(1896,203) scale(.5)"/><use href="#pk" transform="translate(1919,212) scale(.55)"/><use href="#rb" transform="translate(1877,222) scale(.55) rotate(40)"/><use href="#sp" transform="translate(1908,226) scale(.55)"/><use href="#gr" transform="translate(1866,232) scale(.5)"/><use href="#pk" transform="translate(1898,241) scale(.55) rotate(80)"/>

<!-- Cows etc. -->
<g transform="translate(1680,400) scale(.3333)">
<use href="#pig" filter="url(#dsl)"/>
<use href="#cow" filter="url(#dsl)"/>
<use href="#cow" x="798" filter="url(#dsl)"/>
<g filter="url(#dsl)"><circle cx="1068" cy="877" r="31"/><path d="M1045 905L1045 935C1020 945 990 950 985 965C970 1050 960 1120 955 1160C955 1185 965 1190 975 1190C980 1170 985 1140 995 1090L995 1185C990 1250 980 1330 975 1400C965 1420 960 1440 975 1450C990 1450 1000 1430 1005 1410C1025 1340 1045 1270 1055 1225C1060 1280 1065 1340 1070 1400C1085 1430 1100 1450 1120 1450C1135 1440 1120 1415 1115 1385C1115 1300 1115 1240 1115 1180C1120 1200 1130 1210 1145 1200C1155 1180 1145 1165 1150 1140C1150 1060 1150 1000 1145 965C1130 945 1100 945 1092 935L1092 905Z"/></g>
<g fill="#b02a30">
<path d="M320 325C400 180 520 80 668 42L672 62C550 95 410 190 320 325Z"/><path d="M640 5L765 45L645 105L672 50Z"/>
<path d="M508 377C600 310 700 290 780 293C850 295 910 310 960 330L950 348C890 320 820 310 760 310C680 310 590 335 508 377Z"/><path d="M950 280L1035 382L903 367L950 345Z"/>
<path d="M447 655C600 650 750 720 870 825L855 840C740 740 600 675 447 655Z"/><path d="M880 788L905 918L795 842L855 835Z"/>
</g>
<circle cx="150" cy="300" r="94" fill="#fff" stroke="#333" stroke-width="6"/>
<path d="M245 275L340 495M105 385L295 525" stroke="#3f4145" stroke-width="6" fill="none"/>
<circle cx="318" cy="508" r="26" fill="none" stroke="#3f4145" stroke-width="6"/>
<rect x="98" y="262" width="30" height="9" rx="3" fill="#d22e7c" transform="rotate(20 113 266)"/><rect x="170" y="235" width="28" height="9" rx="3" fill="#d22e7c" transform="rotate(75 184 240)"/>
<circle cx="90" cy="303" r="10" fill="#3fa34d"/><circle cx="150" cy="298" r="10" fill="#3fa34d"/>
<path d="M200 312Q198 325 210 333M170 367Q185 372 198 362" stroke="#e8452f" stroke-width="8" fill="none" stroke-linecap="round"/>
<path d="M185 278q10 10 5 18t8 16M135 362q10-4 15 2t20 3" stroke="#e9a090" stroke-width="2" fill="none"/>
</g>

<!-- Lofting trees -->
<use href="#tree" transform="translate(1745,1795) scale(1.41)"/>
<use href="#tree" transform="translate(2224,1795) scale(1.41)"/>

<!-- Sequencing region -->
<g transform="translate(1300,900) scale(.8293,.8482)">
<use href="#rb" transform="translate(465,180) scale(1.2) rotate(-15)"/><use href="#bl" transform="translate(513,150) scale(1.2)"/><use href="#sp" transform="translate(571,150) scale(1.2)"/><use href="#gr" transform="translate(529,186) scale(1.1)"/><use href="#pk" transform="translate(582,186) scale(1.1)"/><use href="#sp" transform="translate(493,206) scale(1.2)"/><use href="#sp" transform="translate(571,225) scale(1.2)"/><use href="#rb" transform="translate(505,243) scale(1.1) rotate(40)"/><use href="#pk" transform="translate(564,260) scale(1.1) rotate(45)"/><use href="#gr" transform="translate(492,270) scale(1.1)"/><use href="#bl" transform="translate(525,292) scale(1.2)"/><use href="#sp" transform="translate(593,292) scale(1.2)"/>

<g filter="url(#dsl)">
<path fill="#b3b4b6" stroke="#000" stroke-width="5" d="M492 318Q525 328 556 318Q540 330 540 360H510Q510 330 492 318Z"/>
<path fill="#b3b4b6" stroke="#000" stroke-width="5" d="M408 390Q408 378 420 378H470V368Q470 358 480 358H578Q588 358 588 368V445H602V550Q602 562 590 562H420Q408 562 408 550Z"/>
<path d="M435 562V572M576 562V572" stroke="#000" stroke-width="5"/>
</g>
<rect x="423" y="445" width="178" height="100" rx="10" fill="#b3b4b6" stroke="#000" stroke-width="5"/><path d="M552 445V545" stroke="#000" stroke-width="5"/>
<rect x="487" y="375" width="88" height="57" rx="8" fill="#fff" stroke="#000" stroke-width="5"/>
<path d="M497 388C512 388 512 418 531 418C550 418 550 388 565 388M497 418C512 418 512 388 531 388C550 388 550 418 565 418M520 392V414M531 388V418M542 392V414" stroke="#000" stroke-width="3.500" fill="none"/>

<g filter="url(#ds)"><rect x="936" y="160" width="209" height="162" fill="#fff" stroke="#000" stroke-width="3.500"/></g>
<path d="M958 264H980M980 235V293H1055M980 235H1002M1002 212V260H1055M1002 212H1023M1023 190V237H1055M1023 190H1055" stroke="#000" stroke-width="3.500" fill="none"/>
<g stroke="#000" stroke-width="3.500"><ellipse cx="1074" cy="188" rx="11" ry="19" fill="#f3b04a"/><ellipse cx="1075" cy="230" rx="11" ry="14" fill="#e04a3a"/><ellipse cx="1084" cy="260" rx="21" ry="11" fill="#4ea4dc"/><ellipse cx="1078" cy="295" rx="14" ry="13" fill="#4fae51"/></g>

<g filter="url(#ds)"><rect x="936" y="365" width="209" height="161" fill="#fff" stroke="#000" stroke-width="3.500"/></g>
<g stroke="#fff" stroke-width="1">
<g fill="#9bc556"><rect x="954" y="383" width="21.500" height="32"/><rect x="975.500" y="383" width="21.500" height="32"/><rect x="1040" y="415" width="21.500" height="32"/><rect x="954" y="479" width="21.500" height="32"/><rect x="975.500" y="479" width="21.500" height="32"/><rect x="997" y="479" width="21.500" height="32"/></g>
<g fill="#ee9a3d"><rect x="997" y="383" width="21.500" height="32"/><rect x="1018.500" y="383" width="21.500" height="32"/><rect x="1040" y="383" width="21.500" height="32"/><rect x="954" y="415" width="21.500" height="32"/><rect x="975.500" y="415" width="21.500" height="32"/><rect x="1018.500" y="415" width="21.500" height="32"/><rect x="1061.500" y="415" width="21.500" height="32"/><rect x="954" y="447" width="21.500" height="32"/><rect x="997" y="447" width="21.500" height="32"/><rect x="1018.500" y="447" width="21.500" height="32"/><rect x="1040" y="447" width="21.500" height="32"/><rect x="1083" y="447" width="21.500" height="32"/><rect x="1083" y="479" width="21.500" height="32"/><rect x="1104.500" y="479" width="21.500" height="32"/></g>
<g fill="#f6ec5a"><rect x="1061.500" y="383" width="21.500" height="32"/><rect x="1083" y="383" width="21.500" height="32"/><rect x="1104.500" y="383" width="21.500" height="32"/><rect x="997" y="415" width="21.500" height="32"/><rect x="975.500" y="447" width="21.500" height="32"/><rect x="1061.500" y="447" width="21.500" height="32"/><rect x="1018.500" y="479" width="21.500" height="32"/></g>
<g fill="#e5683a"><rect x="1083" y="415" width="21.500" height="32"/><rect x="1104.500" y="415" width="21.500" height="32"/><rect x="1104.500" y="447" width="21.500" height="32"/></g>
<g fill="#e04a3a"><rect x="1040" y="479" width="21.500" height="32"/><rect x="1061.500" y="479" width="21.500" height="32"/></g>
</g>

<!-- Lofting -->
<use href="#cloud" transform="translate(690,742) scale(.85,1.6)" fill="#fff" filter="url(#glow)"/>
<circle cx="682" cy="790" r="30" fill="none" stroke="#f1a52a" stroke-width="22" stroke-dasharray="6 5"/>
<circle cx="682" cy="790" r="31" fill="url(#sun)"/>
<path d="M715 1015C680 980 690 950 710 925C725 890 690 880 702 852" stroke="#b0282e" stroke-width="9" fill="none"/>
<path d="M718 835L686 855L700 850L715 870Z" fill="#b0282e"/>
<path d="M960 890C970 930 990 950 975 975C950 1010 985 1030 972 1055" stroke="#b0282e" stroke-width="9" fill="none"/>
<path d="M958 1072L990 1050L975 1055L965 1040Z" fill="#b0282e"/>
<path d="M640 950C620 930 625 900 632 880M662 950C642 925 648 895 656 875M632 870L626 888L640 884ZM657 868L650 885L664 882Z" stroke="#9ccbec" stroke-width="5" fill="none"/>
<use href="#rain"/>
<use href="#rb" transform="translate(940,845) scale(1.2) rotate(200)"/><use href="#sp" transform="translate(973,864) scale(1.2)"/>
<use href="#pk" transform="translate(692,1045) scale(1.3)"/><use href="#gr" transform="translate(727,1056) scale(1.3)"/>

<!-- Bacterium -->
<g filter="url(#dsl)">
<g fill="#d23a78"><circle cx="622" cy="1362" r="12"/><circle cx="655" cy="1327" r="12"/><circle cx="693" cy="1296" r="12"/><circle cx="727" cy="1263" r="12"/><circle cx="765" cy="1233" r="12"/><circle cx="822" cy="1219" r="12"/><circle cx="858" cy="1257" r="12"/><circle cx="843" cy="1305" r="12"/><circle cx="808" cy="1337" r="12"/><circle cx="772" cy="1367" r="12"/><circle cx="735" cy="1398" r="12"/><circle cx="684" cy="1433" r="12"/><circle cx="631" cy="1411" r="12"/></g>
<path d="M670 1385L812 1265" stroke="#bf2767" stroke-width="84" stroke-linecap="round" fill="none"/>
</g>
<path d="M672 1375L812 1258" stroke="#e4407f" stroke-width="42" stroke-linecap="round" fill="none" filter="url(#bl8)"/>
<circle cx="798" cy="1291" r="17" fill="none" stroke="#222" stroke-width="3"/><circle cx="704" cy="1355" r="17" fill="none" stroke="#222" stroke-width="3"/>
<path d="M810 1277L930 1232M815 1305L935 1335M718 1345L845 1425M692 1368L757 1465" stroke="#222" stroke-width="3" fill="none"/>
<circle cx="962" cy="1283" r="59" fill="#fff" stroke="#222" stroke-width="3.500"/><circle cx="813" cy="1475" r="59" fill="#fff" stroke="#222" stroke-width="3.500"/>
<path d="M915 1310C940 1320 960 1270 1010 1262M915 1295C940 1285 970 1315 1010 1280" stroke="#a5523a" stroke-width="4" fill="none"/>
<path d="M782 1440L840 1445L815 1465L845 1470L810 1500Q790 1510 780 1508L800 1480L780 1470Z" fill="#2a8aa8"/>
<path d="M765 1490Q760 1470 785 1450M845 1440Q865 1460 850 1495" stroke="#999" stroke-width="2" fill="none"/>
</g>

<!-- Modeling cube -->
<g transform="translate(2800,50) scale(.6631,.606)">
<g filter="url(#dsl)"><path d="M642 205L1152 375V988L640 1172L118 980V375Z" fill="#e6e7e8"/></g>
<path d="M118 980L642 832L1152 988" stroke="#9a9b9e" stroke-width="2" fill="none"/><path d="M640 532V832" stroke="#000" stroke-width="4"/>
<path d="M640 832V1172" stroke="#000" stroke-width="3"/>
<path d="M642 205L1152 375V988L640 1172L118 980V375ZM118 375L640 532L1152 375" stroke="#000" stroke-width="5" fill="none" stroke-linejoin="miter"/>
<path d="M924 510C945 570 965 590 965 625A41 41 0 0 1 883 625C883 590 905 570 924 510Z" fill="#4fa8de"/>
<text x="924" y="640" font-size="72" text-anchor="middle" style="fill:#fff;font-weight:400">%</text>
<path d="M1010 490A21 21 0 0 1 1053 490V665A47 52 0 1 1 1010 665Z" fill="#fff" stroke="#000" stroke-width="3"/>
<rect x="1027" y="488" width="7" height="60" fill="#fff" stroke="#000" stroke-width="2"/>
<path d="M1031 545V700" stroke="#d62e2a" stroke-width="6"/>
<ellipse cx="1031" cy="712" rx="28" ry="28" fill="#e0352f" stroke="#000" stroke-width="3"/>
<path d="M1040 530H1052M1044 550H1052M1040 570H1052M1044 590H1052M1040 610H1052M1044 630H1052M1040 650H1052" stroke="#000" stroke-width="2"/>
<ellipse cx="775" cy="992" rx="85" ry="48" fill="none" stroke="#333" stroke-width="2"/>
<path d="M690 990C690 1015 860 1015 860 990V1005C860 1055 690 1055 690 1005Z" fill="#d8cdb8"/>
<ellipse cx="775" cy="995" rx="85" ry="28" fill="#d8cdb8" stroke="#333" stroke-width="2"/>
<path d="M690 1000C690 1055 860 1055 860 1000" stroke="#333" stroke-width="2" fill="none"/>
<path d="M743 992Q755 978 772 992" stroke="#e8632f" stroke-width="9" fill="none" stroke-linecap="round"/><path d="M772 992q8 8 14 1t10 2t12-6" stroke="#e8632f" stroke-width="1.500" fill="none"/>
<ellipse cx="751" cy="1020" rx="11" ry="11" fill="#3b93d0"/><ellipse cx="826" cy="1011" rx="15" ry="8" fill="#d22e7c"/>
<g fill="#e0352f">
<path d="M693 928C600 890 480 920 420 1015" stroke="#e0352f" stroke-width="17" fill="none"/><path d="M386 1060L400 975L422 1015L452 1012Z"/>
<path d="M392 1310C430 1390 490 1435 550 1450" stroke="#e0352f" stroke-width="17" fill="none"/><path d="M605 1447L537 1405L550 1445L528 1470Z"/>
<path d="M782 1368C840 1310 865 1220 850 1130" stroke="#e0352f" stroke-width="17" fill="none"/><path d="M832 1080L822 1165L850 1145L878 1148Z"/>
</g>
<g filter="url(#dsl)">
<path d="M245 1135C225 1105 190 1090 160 1105" stroke="#000" stroke-width="4" fill="none"/>
<path d="M245 1175L212 1198M305 1250L325 1272M380 1235L412 1282" stroke="#6f625a" stroke-width="10" fill="none"/>
<path fill="#2b2b2b" d="M242 1150C258 1098 320 1083 358 1110L378 1105C392 1130 402 1170 428 1215C428 1235 400 1240 378 1235C362 1258 320 1275 296 1244C268 1205 232 1185 242 1150Z"/>
<ellipse cx="310" cy="1178" rx="22" ry="26" fill="#7a6a62"/>
<path d="M362 1150L376 1104L398 1160Z" fill="#333"/>
<circle cx="369" cy="1199" r="7" fill="#000"/>
<path d="M420 1205L450 1180M422 1210L455 1195M422 1215L458 1210M380 1240L392 1258" stroke="#666" stroke-width="1.500"/>
</g>
</g>
<!-- Fan -->
<g transform="translate(2991,425)"><use href="#blade"/><use href="#blade" transform="rotate(90)"/><use href="#blade" transform="rotate(180)"/><use href="#blade" transform="rotate(270)"/><circle r="20"/></g>
<g transform="translate(3263,872) scale(.8) translate(-421,-190.700) scale(.3571,.3333)" filter="url(#dsl)">
<use href="#leaves" fill="#97c257" stroke="#6b9c3a" stroke-width="3"/><use href="#stem"/><use href="#pot"/>
</g>

<!-- Data integration -->
<g transform="translate(2640,1350) scale(.7653,.5102)">
<g filter="url(#dsl)"><path d="M38 1422L171 1155H1513L1398 1422Z" fill="#9bc556"/></g>
<path d="M1178 1422L1275 1155H1513L1398 1422Z" fill="#cfd0d2"/>
<path fill="#3672b3" d="M470 1155H560C600 1165 615 1185 605 1200C580 1215 530 1235 520 1255C525 1280 580 1300 650 1320C710 1345 745 1375 745 1395C750 1410 770 1420 800 1422H522C540 1395 565 1375 560 1355C530 1335 470 1330 468 1315C485 1295 495 1290 480 1275C450 1265 425 1250 430 1235C440 1220 500 1215 540 1190C545 1175 510 1165 470 1155Z"/>
<path d="M171 224V1155H1513M171 224L1513 228V1155M38 466L171 224M1398 466L1513 228M1398 1422L1513 1155M38 1422L171 1155" stroke="#000" stroke-width="5" fill="none"/>
<rect x="38" y="466" width="1360" height="956" fill="none" stroke="#000" stroke-width="5"/>
<use href="#cloud" transform="translate(345,625) scale(1.5,2.5)" fill="#fff" filter="url(#glow)"/>
<path d="M177 1160C190 900 320 760 450 758C590 760 700 950 720 1130M775 1170C790 930 910 770 1050 768C1190 770 1290 960 1320 1150" stroke="#000" stroke-width="5" fill="none"/>
<path d="M455 758L415 735L425 758L415 788ZM1055 768L1012 745L1022 768L1012 798ZM722 1180L700 1115L720 1128L738 1115Z"/>
<use href="#house" transform="translate(1373,1082)" fill="#a09283"/>
<use href="#house" transform="translate(1326,1178)" fill="#a09283"/>
<use href="#house" transform="translate(1339,1276)" fill="#a09283"/>
<path d="M1320 1190L1305 1125L1320 1138L1335 1125Z"/>
<path d="M1398 1000V1422" stroke="#000" stroke-width="5"/>
</g>
<use href="#tree" transform="translate(2929,2013) scale(1.3,1.45)"/>
<use href="#tree" transform="translate(2837,2046) scale(1.44,1.45)"/>
<path d="M2775 1942L2775 1890" stroke="#000" stroke-width="2.500"/>
<use href="#rain" transform="translate(2361,1069.500) scale(.8293,.8482)"/>
<use href="#rain" transform="translate(2501,1040) scale(.8293,.8482)"/>
<use href="#cow" transform="translate(3354,1840) scale(.1833)"/>
<use href="#pig" transform="translate(3676,1989) scale(-.2,.2)"/>
<text x="2804" y="1713" font-size="54" textLength="331" lengthAdjust="spacingAndGlyphs" style="font-weight:400" stroke="#000" stroke-width=".8">Aerosolisation</text>
<text x="3453" y="1721" font-size="54" textLength="212" lengthAdjust="spacingAndGlyphs" style="font-weight:400" stroke="#000" stroke-width=".8">Dispersal</text>
<text x="3099" y="2004" font-size="54" textLength="253" lengthAdjust="spacingAndGlyphs" style="font-weight:400" stroke="#000" stroke-width=".8">Deposition</text>
</svg>
</body></html>
